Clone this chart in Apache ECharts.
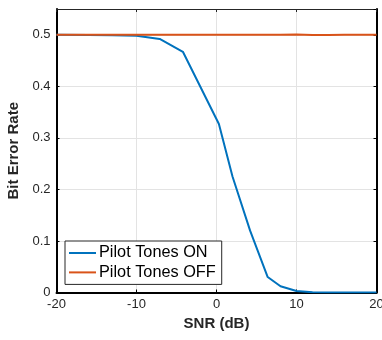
<!DOCTYPE html>
<html>
<head>
<meta charset="utf-8">
<script src="https://cdn.jsdelivr.net/npm/echarts@6/dist/echarts.min.js"></script>
<style>
html,body{margin:0;padding:0;background:#fff;}
#c{width:382px;height:340px;}
</style>
</head>
<body>
<div id="c"></div>
<script>
const seriesNames = ['Pilot Tones ON', 'Pilot Tones OFF'];
const snrOn = [-20, -16, -13, -10, -7.1, -4.2, 0.3, 2, 4.2, 6.4, 8, 10, 12, 14, 16, 18, 20];
const berOn = [0.5, 0.4998, 0.4993, 0.498, 0.492, 0.467, 0.327, 0.225, 0.12, 0.03, 0.012, 0.003, 0.0005, 0.0001, 0, 0, 0];
const snrOff = [-20, -18, -16, -14, -12, -10, -8, -6, -4, -2, 0, 2, 4, 6, 8, 10, 12, 14, 16, 18, 20];
const berOff = [0.5, 0.5, 0.5, 0.5, 0.5, 0.4999, 0.5, 0.5, 0.5, 0.5, 0.5, 0.5, 0.5, 0.5, 0.5, 0.5003, 0.4997, 0.4998, 0.5, 0.5, 0.5];
const xTicks = [-20, -10, 0, 10, 20];
const yTicks = [0, 0.1, 0.2, 0.3, 0.4, 0.5];

const FONT = '"Liberation Sans", Arial, Helvetica, sans-serif';
const TXT = '#262626';

function pairs(xs, ys) { return xs.map((x, i) => [x, ys[i]]); }

const chart = echarts.init(document.getElementById('c'), null, {renderer: 'canvas'});
chart.setOption({
  animation: false,
  backgroundColor: '#fff',
  grid: {left: 56.5, right: 5.5, top: 9, bottom: 47.5, containLabel: false, outerBoundsMode: 'none'},
  legend: {
    orient: 'vertical',
    left: 65, top: 241,
    padding: [4, 6, 4, 4],
    itemWidth: 27, itemHeight: 2,
    itemGap: 3.4,
    icon: 'rect',
    backgroundColor: '#fff',
    borderColor: '#262626',
    borderWidth: 1,
    borderRadius: 0,
    textStyle: {fontFamily: FONT, fontSize: 16.3, color: '#000', lineHeight: 16, padding: [0, 0, 0, -2]},
    data: seriesNames
  },
  xAxis: [{
    type: 'value', min: xTicks[0], max: xTicks[xTicks.length - 1], interval: 10,
    name: 'SNR (dB)', nameLocation: 'middle', nameGap: 24,
    nameTextStyle: {fontFamily: FONT, fontSize: 15, fontWeight: 'bold', color: TXT},
    axisLine: {show: true, onZero: false, lineStyle: {color: '#000', width: 2}},
    axisTick: {show: true, inside: true, length: 3, lineStyle: {color: '#000'}},
    axisLabel: {fontFamily: FONT, fontSize: 13, color: TXT, margin: 5},
    splitLine: {show: true, lineStyle: {color: '#e3e3e3', width: 1}}
  }, {
    type: 'value', position: 'top', min: xTicks[0], max: xTicks[xTicks.length - 1], interval: 10,
    axisLine: {show: true, onZero: false, lineStyle: {color: '#262626', width: 1}},
    axisTick: {show: true, inside: true, length: 3, lineStyle: {color: '#262626'}},
    axisLabel: {show: false}, splitLine: {show: false}
  }],
  yAxis: [{
    type: 'value', min: 0, max: 0.55, interval: 0.1,
    name: 'Bit Error Rate', nameLocation: 'middle', nameGap: 30,
    nameTextStyle: {fontFamily: FONT, fontSize: 15, fontWeight: 'bold', color: TXT},
    axisLine: {show: true, onZero: false, lineStyle: {color: '#000', width: 2}},
    axisTick: {show: true, inside: true, length: 3, lineStyle: {color: '#000'}},
    axisLabel: {fontFamily: FONT, fontSize: 13, color: TXT, margin: 6, showMaxLabel: false,
      formatter: v => yTicks.some(t => Math.abs(t - v) < 1e-9) ? String(+v.toFixed(1)) : ''},
    splitLine: {show: true, lineStyle: {color: '#e3e3e3', width: 1}}
  }, {
    type: 'value', position: 'right', min: 0, max: 0.55, interval: 0.1,
    axisLine: {show: true, onZero: false, lineStyle: {color: '#000', width: 2}},
    axisTick: {show: true, inside: true, length: 3, lineStyle: {color: '#000'}},
    axisLabel: {show: false}, splitLine: {show: false}
  }],
  series: [{
    name: seriesNames[0], type: 'line', data: pairs(snrOn, berOn),
    showSymbol: false, symbol: 'none', color: '#0072BD',
    lineStyle: {color: '#0072BD', width: 2}, z: 3
  }, {
    name: seriesNames[1], type: 'line', data: pairs(snrOff, berOff),
    showSymbol: false, symbol: 'none', color: '#D95319',
    lineStyle: {color: '#D95319', width: 2}, z: 4
  }]
});
</script>
</body>
</html>
